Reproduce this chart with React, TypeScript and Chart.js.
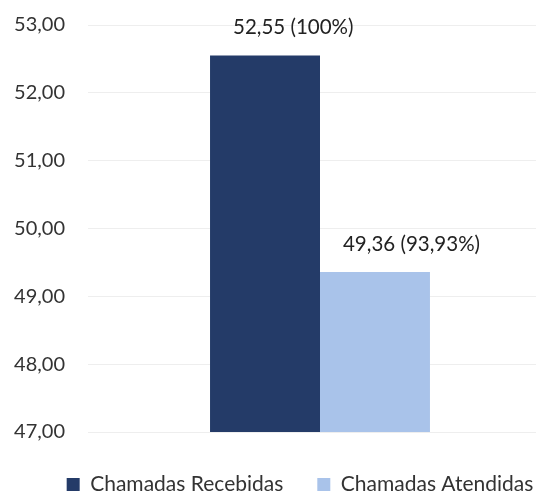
import React, { useEffect, useRef } from "react";
import { Chart, registerables } from "chart.js";

Chart.register(...registerables);

const categories = [""];
const seriesNames = ["Chamadas Recebidas", "Chamadas Atendidas"];
const receivedValues = [52.55];
const answeredValues = [49.36];
const percentLabels = ["100%", "93,93%"];
const yMin = 47;
const yMax = 53;
const yStep = 1;

const fmt = (v: number) => v.toFixed(2).replace(".", ",");

const FONT = "Lato, 'Noto Sans', sans-serif";

const valueLabelPlugin = {
  id: "valueLabels",
  afterDatasetsDraw(chart: any) {
    const ctx = chart.ctx;
    ctx.save();
    ctx.font = `20.5px ${FONT}`;
    ctx.fillStyle = "#222222";
    ctx.textAlign = "left";
    ctx.textBaseline = "middle";
    chart.data.datasets.forEach((ds: any, i: number) => {
      const meta = chart.getDatasetMeta(i);
      meta.data.forEach((bar: any, j: number) => {
        const v = ds.data[j] as number;
        ctx.fillText(`${fmt(v)} (${percentLabels[i]})`, bar.x - 32, bar.y - 28);
      });
    });
    ctx.restore();
  },
};

const legendShiftPlugin = {
  id: "legendShift",
  afterLayout(chart: any) {
    const lg = chart.legend;
    if (!lg) return;
    const dx = 300 - (lg.left + lg.right) / 2;
    lg.left += dx;
    lg.right += dx;
  },
};

export default function App() {
  const ref = useRef<HTMLCanvasElement | null>(null);

  useEffect(() => {
    if (!ref.current) return;
    const chart = new Chart(ref.current, {
      type: "bar",
      data: {
        labels: categories,
        datasets: [
          {
            label: seriesNames[0],
            data: receivedValues,
            backgroundColor: "#243b68",
            barPercentage: 1,
            categoryPercentage: 0.474,
          },
          {
            label: seriesNames[1],
            data: answeredValues,
            backgroundColor: "#a9c3ea",
            barPercentage: 1,
            categoryPercentage: 0.474,
          },
        ],
      },
      options: {
        responsive: false,
        animation: false,
        layout: { padding: { left: 10, right: 8, top: 25, bottom: 0 } },
        plugins: {
          tooltip: { enabled: false },
          legend: {
            position: "bottom",
            labels: {
              boxWidth: 13,
              boxHeight: 13,
              padding: 34,
              color: "#333333",
              font: { family: FONT, size: 21 },
            },
          },
        },
        scales: {
          x: {
            display: true,
            ticks: { display: false },
            grid: { display: false },
            border: { display: false },
            afterFit: (s: any) => {
              s.height = 8;
            },
          },
          y: {
            min: yMin,
            max: yMax,
            ticks: {
              stepSize: yStep,
              callback: (v: any) => fmt(Number(v)),
              color: "#333333",
              font: { family: FONT, size: 20 },
              padding: 23,
            },
            grid: { color: "#eeeeee", drawTicks: false },
            border: { display: false },
            afterFit: (s: any) => {
              s.width = 78;
              s.paddingTop = 0;
              s.paddingBottom = 0;
            },
          },
        },
      },
      plugins: [valueLabelPlugin, legendShiftPlugin],
    });
    return () => chart.destroy();
  }, []);

  return (
    <div
      style={{
        position: "absolute",
        left: 0,
        top: 0,
        width: 536,
        height: 495,
        overflow: "hidden",
        background: "#ffffff",
      }}
    >
      <canvas ref={ref} width={560} height={505} style={{ display: "block" }} />
    </div>
  );
}
